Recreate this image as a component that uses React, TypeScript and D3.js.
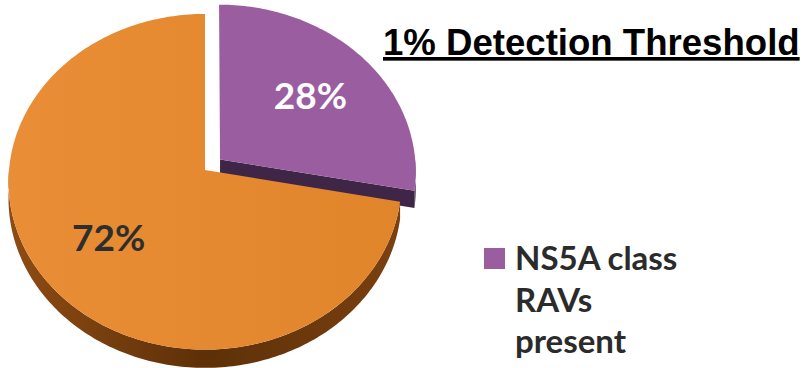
import React from "react";
import * as d3 from "d3";

// ---- data ----
const categories = ["NS5A class RAVs present", "No NS5A class RAVs"];
const values = [28, 72];
const sliceColors = ["#9A5EA0", "#E5882F"];
const sideColors = ["#3F2546", "#6A380C"];
const labelColors = ["#FFFFFF", "#2E2E2E"];
const titleText = "1% Detection Threshold";
const legendLines = ["NS5A class", "RAVs", "present"];
const explode = [0.1, 0];

const W = 807;
const H = 368;

// pseudo-3D projection parameters
const cx = 205, cy = 170, rx = 196, ry = 167, k = 0.07, depth = 17;

function proj(theta: number, r: number, h: number, o: [number, number]): [number, number] {
  const X = r * Math.sin(theta) + o[0];
  const Z = -r * Math.cos(theta) + o[1];
  const s = 1 / (1 - k * Z);
  return [cx + rx * X * s, cy + ry * Z * s + h * depth * s];
}

function arcPts(a0: number, a1: number, h: number, o: [number, number]) {
  const n = Math.max(2, Math.ceil(((a1 - a0) * 180) / Math.PI));
  const pts: [number, number][] = [];
  for (let i = 0; i <= n; i++) pts.push(proj(a0 + ((a1 - a0) * i) / n, 1, h, o));
  return pts;
}

export default function App() {
  const pie = d3.pie<number>().sort(null).startAngle(0).endAngle(2 * Math.PI);
  const arcs = pie(values);
  const line = d3.line();

  const slices = arcs.map((a, i) => {
    const mid = (a.startAngle + a.endAngle) / 2;
    const o: [number, number] = [explode[i] * Math.sin(mid), -explode[i] * Math.cos(mid)];
    const top = line([proj(0, 0, 0, o), ...arcPts(a.startAngle, a.endAngle, 0, o)]) + "Z";
    const faces: string[] = [];
    // rim (front half only)
    const r0 = Math.max(a.startAngle, Math.PI / 2);
    const r1 = Math.min(a.endAngle, (3 * Math.PI) / 2);
    if (r1 > r0) {
      const up = arcPts(r0, r1, 0, o);
      const dn = arcPts(r0, r1, 1, o).reverse();
      faces.push(line([...up, ...dn]) + "Z");
    }
    // end radial face
    if (a.endAngle > 0 && a.endAngle < Math.PI) {
      faces.push(
        line([
          proj(a.endAngle, 0, 0, o),
          proj(a.endAngle, 1, 0, o),
          proj(a.endAngle, 1, 1, o),
          proj(a.endAngle, 0, 1, o),
        ]) + "Z"
      );
    }
    // start radial face
    if (a.startAngle > Math.PI && a.startAngle < 2 * Math.PI) {
      faces.push(
        line([
          proj(a.startAngle, 0, 0, o),
          proj(a.startAngle, 1, 0, o),
          proj(a.startAngle, 1, 1, o),
          proj(a.startAngle, 0, 1, o),
        ]) + "Z"
      );
    }
    const lp = proj(mid, 0.62, 0, o);
    return { i, top, faces, lp, value: a.data };
  });

  return (
    <div style={{ position: "absolute", left: 0, top: 0, width: W, height: H, background: "#fff" }}>
      <svg width={W} height={H} style={{ display: "block" }}>
        <defs>
          <linearGradient id="g1" x1="0" x2="1" y1="0" y2="0">
            <stop offset="0" stopColor="#E98E36" />
            <stop offset="1" stopColor="#E1852B" />
          </linearGradient>
          <linearGradient id="s1" x1="0" x2="1" y1="0" y2="0">
            <stop offset="0" stopColor="#8E4C14" />
            <stop offset="0.5" stopColor="#5E3008" />
            <stop offset="1" stopColor="#7A4010" />
          </linearGradient>
        </defs>
        {slices.map((s) => (
          <g key={s.i}>
            {s.faces.map((f, j) => (
              <path key={j} d={f} fill={s.i === 1 ? "url(#s1)" : sideColors[s.i]} />
            ))}
            <path d={s.top} fill={s.i === 1 ? "url(#g1)" : sliceColors[s.i]} />
          </g>
        ))}
        {slices.map((s) => (
          <text
            key={"l" + s.i}
            x={s.lp[0]}
            y={s.lp[1]}
            dy="0.36em"
            textAnchor="middle"
            fontFamily="Lato, 'Open Sans', sans-serif"
            fontWeight={700}
            fontSize={37}
            fill={labelColors[s.i]}
          >
            {s.value + "%"}
          </text>
        ))}
        <text
          x={383}
          y={55}
          fontFamily="'Liberation Sans', Arial, sans-serif"
          fontWeight={700}
          fontSize={36.6}
          fill="#000"
          style={{ textDecoration: "underline" }}
        >
          {titleText}
        </text>
        <rect x={484} y={248} width={21} height={21} fill={sliceColors[0]} />
        {legendLines.map((t, i) => (
          <text
            key={t}
            x={515}
            y={270 + i * 41.5}
            fontFamily="Lato, 'Open Sans', sans-serif"
            fontWeight={700}
            fontSize={33}
            fill="#2B2B2B"
          >
            {t}
          </text>
        ))}
      </svg>
    </div>
  );
}
